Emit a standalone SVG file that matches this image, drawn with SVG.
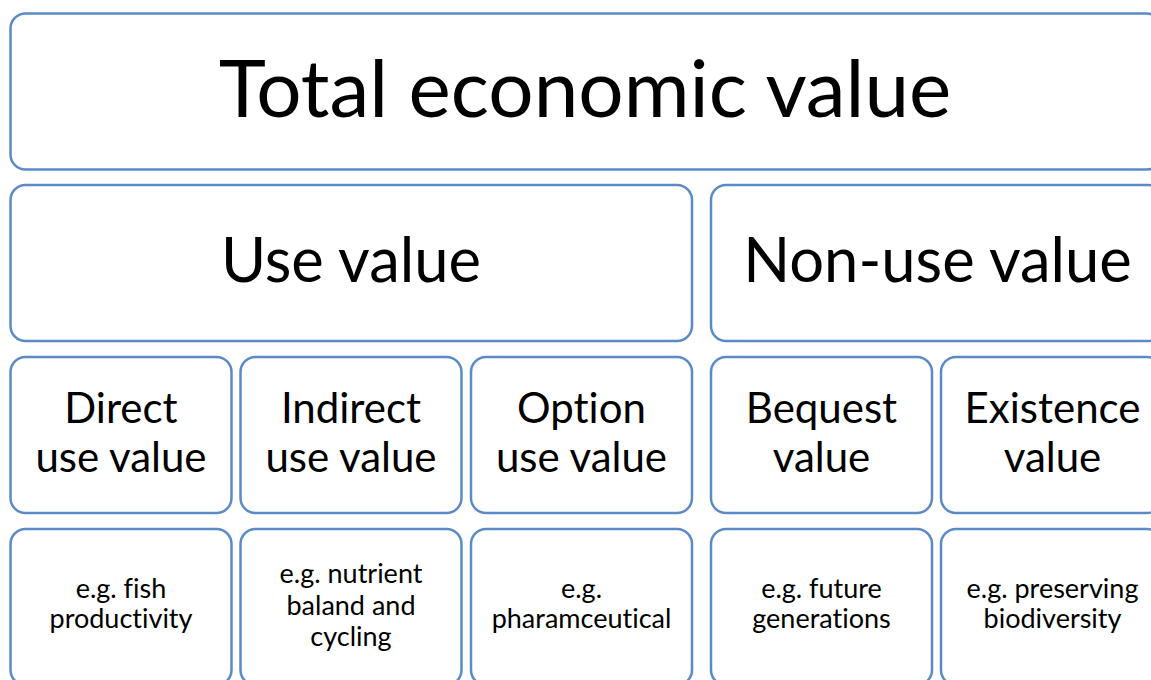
<svg xmlns="http://www.w3.org/2000/svg" width="1151" height="680" viewBox="0 0 1151 680">
  <style>
    .box { fill: #ffffff; stroke: #5b8bc6; stroke-width: 2.5; }
    text { font-family: "Lato", "Liberation Sans", sans-serif; fill: #000000; text-anchor: middle; font-variant-ligatures: none; font-feature-settings: "liga" 0, "dlig" 0; }
    .t1 { font-size: 80px; }
    .t2 { font-size: 61.5px; }
    .t3 { font-size: 42px; }
    .t4 { font-size: 27px; }
  </style>
  <rect width="1151" height="680" fill="#ffffff"/>

  <!-- Top level -->
  <g id="total">
    <rect class="box" x="10.5" y="13.5" width="1151" height="156" rx="15"/>
    <text class="t1" x="585" y="117">Total economic value</text>
  </g>

  <!-- Second level -->
  <g id="use">
    <rect class="box" x="10.5" y="185" width="681.5" height="156" rx="15"/>
    <text class="t2" x="351" y="282">Use value</text>
  </g>
  <g id="nonuse">
    <rect class="box" x="711" y="185" width="452" height="156" rx="15"/>
    <text class="t2" x="937.5" y="282">Non-use value</text>
  </g>

  <!-- Third level -->
  <g id="direct">
    <rect class="box" x="10.5" y="357" width="221" height="156" rx="15"/>
    <text class="t3" x="121" y="423">Direct</text>
    <text class="t3" x="121" y="472">use value</text>
  </g>
  <g id="indirect">
    <rect class="box" x="240.5" y="357" width="221" height="156" rx="15"/>
    <text class="t3" x="351" y="423">Indirect</text>
    <text class="t3" x="351" y="472">use value</text>
  </g>
  <g id="option">
    <rect class="box" x="471" y="357" width="221" height="156" rx="15"/>
    <text class="t3" x="581.5" y="423">Option</text>
    <text class="t3" x="581.5" y="472">use value</text>
  </g>
  <g id="bequest">
    <rect class="box" x="711" y="357" width="221" height="156" rx="15"/>
    <text class="t3" x="821.5" y="423">Bequest</text>
    <text class="t3" x="821.5" y="472">value</text>
  </g>
  <g id="existence">
    <rect class="box" x="941" y="357" width="221" height="156" rx="15"/>
    <text class="t3" x="1052.5" y="423">Existence</text>
    <text class="t3" x="1052.5" y="472">value</text>
  </g>

  <!-- Examples -->
  <g id="ex-direct">
    <rect class="box" x="10.5" y="529" width="221" height="156" rx="15"/>
    <text class="t4" x="121" y="598">e.g. fish</text>
    <text class="t4" x="121" y="628">productivity</text>
  </g>
  <g id="ex-indirect">
    <rect class="box" x="240.5" y="529" width="221" height="156" rx="15"/>
    <text class="t4" x="351" y="583">e.g. nutrient</text>
    <text class="t4" x="351" y="614.5">baland and</text>
    <text class="t4" x="351" y="646">cycling</text>
  </g>
  <g id="ex-option">
    <rect class="box" x="471" y="529" width="221" height="156" rx="15"/>
    <text class="t4" x="581.5" y="598">e.g.</text>
    <text class="t4" x="581.5" y="628">pharamceutical</text>
  </g>
  <g id="ex-bequest">
    <rect class="box" x="711" y="529" width="221" height="156" rx="15"/>
    <text class="t4" x="821.5" y="598">e.g. future</text>
    <text class="t4" x="821.5" y="628">generations</text>
  </g>
  <g id="ex-existence">
    <rect class="box" x="941" y="529" width="221" height="156" rx="15"/>
    <text class="t4" x="1052.5" y="598">e.g. preserving</text>
    <text class="t4" x="1052.5" y="628">biodiversity</text>
  </g>

  <g id="connectors"/>
</svg>
